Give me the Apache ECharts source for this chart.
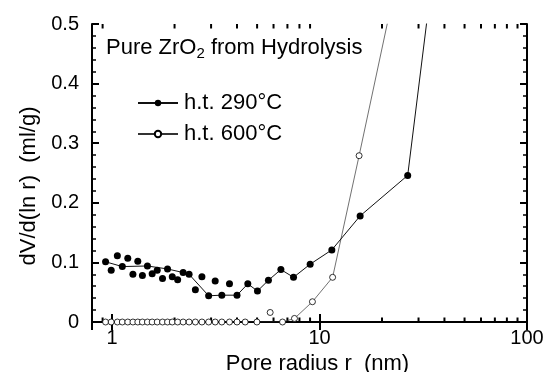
<!DOCTYPE html>
<html>
<head>
<meta charset="utf-8">
<script src="https://cdn.jsdelivr.net/npm/echarts@6/dist/echarts.min.js"></script>
<style>
  html, body { margin: 0; padding: 0; background: #fff; }
  #chart { width: 545px; height: 372px; }
</style>
</head>
<body>
<div id="chart"></div>
<script>
// Pore-size distribution, dV/d(ln r) vs pore radius (log scale)

// h.t. 290°C — points joined by the line
const r290Line = [0.93, 1.12, 1.48, 1.85, 2.20, 2.35, 2.92, 3.38, 4.00, 4.51, 5.02, 5.67, 6.51, 7.49, 9.01, 11.46, 15.69, 26.6, 38];
const v290Line = [0.101, 0.093, 0.094, 0.089, 0.083, 0.080, 0.044, 0.045, 0.045, 0.064, 0.052, 0.070, 0.088, 0.075, 0.097, 0.121, 0.178, 0.246, 0.68];
// h.t. 290°C — additional unconnected points
const r290Pts = [0.99, 1.06, 1.19, 1.26, 1.33, 1.40, 1.56, 1.65, 1.75, 1.95, 2.07, 2.52, 2.71, 3.14, 3.68];
const v290Pts = [0.087, 0.111, 0.107, 0.080, 0.102, 0.078, 0.081, 0.087, 0.073, 0.076, 0.071, 0.054, 0.076, 0.069, 0.064];

// h.t. 600°C — points joined by the line
const r600Line = [0.93, 0.99, 1.06, 1.12, 1.19, 1.26, 1.33, 1.40, 1.48, 1.56, 1.65, 1.75, 1.85, 1.95, 2.07, 2.20, 2.35, 2.52, 2.71, 2.92, 3.14, 3.38, 3.68, 4.00, 4.38, 4.99, 6.63, 7.57, 9.24, 11.56, 15.51, 24.4];
const v600Line = [0, 0, 0, 0, 0, 0, 0, 0, 0, 0, 0, 0, 0, 0, 0, 0, 0, 0, 0, 0, 0, 0, 0, 0, 0, 0, 0, 0.006, 0.034, 0.075, 0.279, 0.60];
// h.t. 600°C — additional unconnected point
const r600Pts = [5.78];
const v600Pts = [0.016];

// axis ticks
const yTicks = [0, 0.1, 0.2, 0.3, 0.4, 0.5];
const xMajor = [1, 10, 100];
const xMinor = [0.9, 2, 3, 4, 5, 6, 7, 8, 9, 20, 30, 40, 50, 60, 70, 80, 90];

const FONT = '"Liberation Sans", Arial, Helvetica, sans-serif';
const zip = (xs, ys) => xs.map((x, i) => [x, ys[i]]);

const chart = echarts.init(document.getElementById('chart'), null, { renderer: 'canvas' });

const logAxisBase = {
  type: 'log',
  logBase: 10,
  min: 0.8,
  max: 100,
  axisLine: { show: true, lineStyle: { color: '#000', width: 2 } },
  axisTick: { show: true, inside: true, length: 8, lineStyle: { color: '#000', width: 2 } },
  splitLine: { show: false },
  minorTick: { show: false },
  minorSplitLine: { show: false }
};

const valAxisBase = {
  type: 'value',
  min: 0,
  max: 0.5,
  interval: 0.1,
  axisLine: { show: true, lineStyle: { color: '#000', width: 2 } },
  axisTick: { show: true, inside: true, length: 7, lineStyle: { color: '#000', width: 2 } },
  minorTick: { show: true, splitNumber: 5, length: 4, lineStyle: { color: '#000', width: 1.5 } },
  splitLine: { show: false }
};

const option = {
  animation: false,
  backgroundColor: '#fff',
  textStyle: { fontFamily: FONT, color: '#000' },
  title: {
    left: 106,
    top: 35,
    padding: 0,
    text: '{a|Pure ZrO}{b|2}{a| from Hydrolysis}',
    textStyle: {
      fontWeight: 'normal',
      rich: {
        a: { fontFamily: FONT, fontSize: 22, fontWeight: 'normal', lineHeight: 26, color: '#000' },
        b: { fontFamily: FONT, fontSize: 15, fontWeight: 'normal', lineHeight: 11, verticalAlign: 'bottom', color: '#000' }
      }
    }
  },
  legend: {
    left: 137,
    top: 92,
    orient: 'vertical',
    padding: 0,
    itemWidth: 40,
    itemHeight: 8,
    itemGap: 9,
    data: ['h.t. 290°C', 'h.t. 600°C'],
    textStyle: { fontFamily: FONT, fontSize: 22, color: '#000', padding: [0, 0, 0, 1] }
  },
  grid: { left: 92, right: 18, top: 24, bottom: 50, containLabel: false, outerBoundsMode: 'none' },
  xAxis: [
    Object.assign({}, logAxisBase, {
      position: 'bottom',
      name: 'Pore radius r  (nm)',
      nameLocation: 'middle',
      nameGap: 26,
      nameTextStyle: { fontFamily: FONT, fontSize: 22, color: '#000', padding: [0, 0, 0, 16] },
      axisLabel: {
        show: true,
        margin: 6,
        fontFamily: FONT,
        fontSize: 20,
        color: '#000',
        formatter: v => (xMajor.some(t => Math.abs(t - v) < 1e-6) ? String(v) : '')
      }
    }),
    Object.assign({}, logAxisBase, {
      position: 'top',
      axisLabel: { show: false }
    })
  ],
  yAxis: [
    Object.assign({}, valAxisBase, {
      position: 'left',
      name: 'dV/d(ln r)  (ml/g)',
      nameLocation: 'middle',
      nameRotate: 90,
      nameGap: 52,
      nameTextStyle: { fontFamily: FONT, fontSize: 22, color: '#000', padding: [0, 26, 0, 0] },
      axisLabel: {
        show: true,
        margin: 13,
        fontFamily: FONT,
        fontSize: 20,
        color: '#000',
        formatter: v => {
          const t = yTicks.find(k => Math.abs(k - v) < 1e-9);
          return t === undefined ? '' : (t === 0 ? '0' : t.toFixed(1));
        }
      }
    }),
    Object.assign({}, valAxisBase, {
      position: 'right',
      axisLabel: { show: false }
    })
  ],
  series: [
    {
      name: 'h.t. 290°C',
      type: 'line',
      xAxisIndex: 0,
      yAxisIndex: 0,
      data: zip(r290Line, v290Line),
      clip: true,
      symbol: 'circle',
      symbolSize: 7,
      showAllSymbol: true,
      itemStyle: { color: '#000', borderColor: '#000', borderWidth: 0, opacity: 1 },
      lineStyle: { color: '#111', width: 1 },
      z: 4
    },
    {
      name: '290 extra',
      type: 'scatter',
      data: zip(r290Pts, v290Pts),
      symbol: 'circle',
      symbolSize: 7,
      itemStyle: { color: '#000', opacity: 1 },
      z: 4
    },
    {
      name: 'h.t. 600°C',
      type: 'line',
      xAxisIndex: 0,
      yAxisIndex: 0,
      data: zip(r600Line, v600Line),
      clip: true,
      symbol: 'circle',
      symbolSize: 6,
      showAllSymbol: true,
      itemStyle: { color: '#fff', borderColor: '#000', borderWidth: 0.8, opacity: 1 },
      lineStyle: { color: '#333', width: 0.7 },
      z: 3
    },
    {
      name: '600 extra',
      type: 'scatter',
      data: zip(r600Pts, v600Pts),
      symbol: 'circle',
      symbolSize: 6,
      itemStyle: { color: '#fff', borderColor: '#000', borderWidth: 0.8, opacity: 1 },
      z: 3
    },
    {
      // minor ticks of the log axis, on bottom and top edges
      name: 'log minor ticks',
      type: 'custom',
      silent: true,
      clip: false,
      data: xMinor.map(v => [v, 0]),
      renderItem: (params, api) => {
        const cs = params.coordSys;
        const x = api.coord([api.value(0), 0])[0];
        const yb = cs.y + cs.height;
        const yt = cs.y;
        const st = { stroke: '#000', lineWidth: 2 };
        return {
          type: 'group',
          children: [
            { type: 'line', shape: { x1: x, y1: yb, x2: x, y2: yb - 4.5 }, style: st },
            { type: 'line', shape: { x1: x, y1: yt, x2: x, y2: yt + 4.5 }, style: st }
          ]
        };
      },
      z: 1
    }
  ]
};

chart.setOption(option);
</script>
</body>
</html>
